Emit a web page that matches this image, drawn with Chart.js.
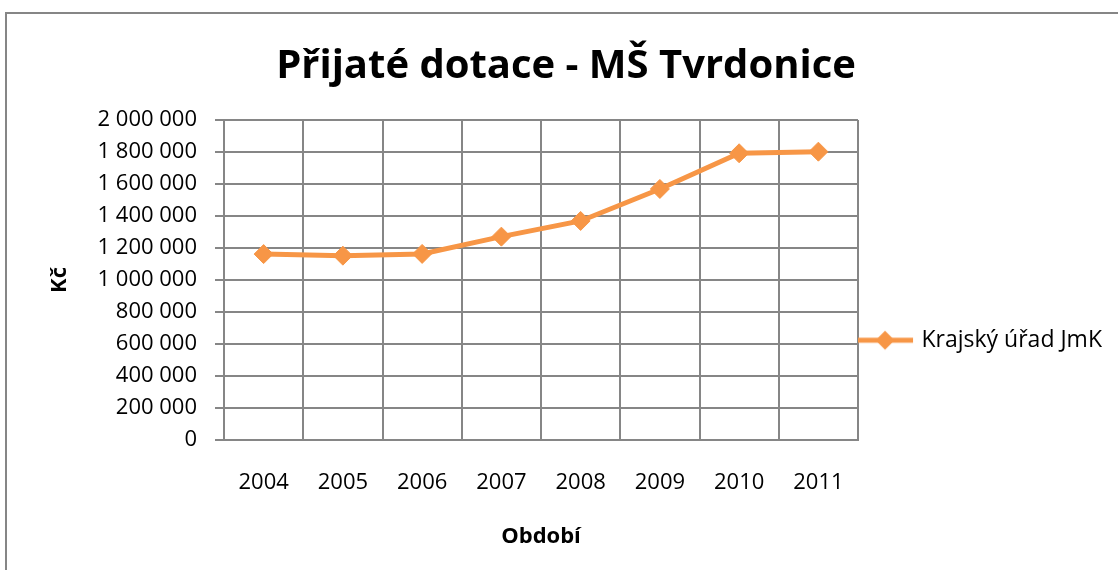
<!DOCTYPE html>
<html>
<head>
<meta charset="utf-8">
<script src="https://cdn.jsdelivr.net/npm/chart.js@4"></script>
<style>
  html, body { margin: 0; padding: 0; background: #fff; overflow: hidden; }
  #frame { position: absolute; left: 5px; top: 12px; width: 1200px; height: 700px; border: 2px solid #868686; }
  #wrap { position: absolute; left: 0; top: 0; width: 1118px; height: 570px; }
</style>
</head>
<body>
<div id="frame"></div>
<div id="wrap"><canvas id="chart"></canvas></div>
<script>
// data
const years = ['2004', '2005', '2006', '2007', '2008', '2009', '2010', '2011'];
const krajskyUrad = [1162000, 1152000, 1163000, 1271000, 1369000, 1569000, 1792000, 1802000];
const seriesName = 'Krajský úřad JmK';
const chartTitle = 'Přijaté dotace - MŠ Tvrdonice';
const yTitle = 'Kč';
const xTitle = 'Období';

const orange = '#F79646';
const gridGray = '#868686';
const font = 'Open Sans';

function formatKc(v) {
  return String(v).replace(/\B(?=(\d{3})+(?!\d))/g, ' ');
}

// legend icon: line with diamond, like Excel
function legendIcon() {
  const c = document.createElement('canvas');
  c.width = 58;
  c.height = 22;
  const ctx = c.getContext('2d');
  ctx.strokeStyle = orange;
  ctx.lineWidth = 5;
  ctx.beginPath();
  ctx.moveTo(1, 11);
  ctx.lineTo(57, 11);
  ctx.stroke();
  ctx.fillStyle = orange;
  ctx.beginPath();
  ctx.moveTo(29 - 9.5, 11);
  ctx.lineTo(29, 11 - 9.5);
  ctx.lineTo(29 + 9.5, 11);
  ctx.lineTo(29, 11 + 9.5);
  ctx.closePath();
  ctx.fill();
  return c;
}

new Chart(document.getElementById('chart').getContext('2d'), {
  type: 'line',
  data: {
    labels: years,
    datasets: [
      {
        label: seriesName,
        data: krajskyUrad,
        borderColor: orange,
        backgroundColor: orange,
        borderWidth: 5,
        pointStyle: 'rectRot',
        pointRadius: 9.5,
        pointHoverRadius: 9.5,
        pointBorderWidth: 1,
        fill: false,
        tension: 0
      }
    ]
  },
  options: {
    responsive: true,
    maintainAspectRatio: false,
    animation: false,
    layout: { padding: { left: 20, right: 6, top: 0, bottom: 0 } },
    plugins: {
      title: {
        display: true,
        text: chartTitle,
        color: '#000',
        font: { family: font, size: 40, weight: 'bold' },
        padding: { top: 43, bottom: 29 }
      },
      legend: {
        position: 'right',
        align: 'center',
        title: { display: true, text: '', font: { size: 12 }, padding: 48 },
        labels: {
          usePointStyle: true,
          pointStyle: legendIcon(),
          pointStyleWidth: 50,
          padding: 2,
          color: '#000',
          font: { family: font, size: 23 }
        }
      },
      tooltip: { enabled: false }
    },
    scales: {
      x: {
        offset: true,
        grid: { offset: true, color: gridGray, lineWidth: 2, drawTicks: false, tickLength: 0 },
        border: { color: gridGray, width: 2 },
        ticks: { color: '#000', padding: 30, font: { family: font, size: 22 } },
        title: {
          display: true,
          text: xTitle,
          color: '#000',
          font: { family: font, size: 22, weight: 'bold' },
          padding: { top: 0, bottom: 20 }
        },
        afterFit: s => { s.height = 130; }
      },
      y: {
        min: 0,
        max: 2000000,
        grid: { color: gridGray, lineWidth: 2, tickLength: 9 },
        border: { color: gridGray, width: 2 },
        ticks: {
          stepSize: 200000,
          color: '#000',
          padding: 18,
          font: { family: font, size: 22 },
          callback: v => formatKc(v)
        },
        title: {
          display: true,
          text: yTitle,
          color: '#000',
          font: { family: font, size: 22, weight: 'bold' },
          padding: { top: 27, bottom: 0 }
        },
        afterFit: s => { s.width = 204; }
      }
    }
  }
});
</script>
</body>
</html>
